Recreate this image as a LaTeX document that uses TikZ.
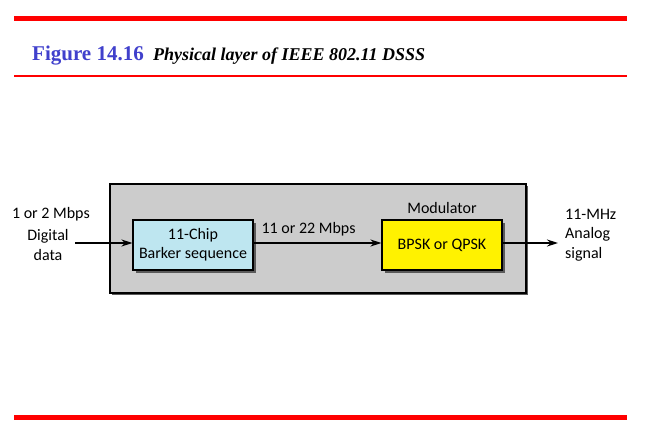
\documentclass[tikz,border=0pt]{standalone}
\usepackage{fontspec}
\setmainfont{Liberation Serif}
\newfontfamily\diagfont{Carlito}
\usepackage{xcolor}
\usetikzlibrary{arrows.meta, positioning, shadows}
\definecolor{rulered}{RGB}{255,0,0}
\definecolor{figblue}{RGB}{64,64,204}
\definecolor{boxgray}{RGB}{204,204,204}
\definecolor{chipcyan}{RGB}{190,230,240}
\definecolor{shadowgray}{RGB}{90,90,90}
\tikzset{
  blockbox/.style={draw=black, line width=1.1pt, minimum width=120pt, minimum height=50pt,
    align=center, font=\diagfont\fontsize{16}{19}\selectfont,
    drop shadow={shadow xshift=3pt, shadow yshift=-3pt, fill=shadowgray, opacity=1}},
  lbl/.style={font=\diagfont\fontsize{16}{19.5}\selectfont, inner sep=0pt},
  flow/.style={-{Stealth[length=11pt, width=7pt]}, line width=1.4pt}
}
\begin{document}
\begin{tikzpicture}[x=1pt, y=-1pt]
  \useasboundingbox (0,0) rectangle (662,434);
  % rules and caption
  \fill[rulered] (14,16) rectangle (627,21);
  \fill[rulered] (14,75) rectangle (627,77);
  \fill[rulered] (14,415) rectangle (627,420);
  \node[anchor=base west, inner sep=0pt, font=\fontsize{21}{24}\selectfont\bfseries\color{figblue}]
    (fignum) at (32,60) {Figure 14.16};
  \node[inner sep=0pt, font=\fontsize{18}{21}\selectfont\bfseries\itshape, right=9pt of fignum.base east, anchor=base west]
    (figtitle) {Physical layer of IEEE 802.11 DSSS};
  % physical layer box
  \node[draw=black, line width=1.1pt, fill=boxgray, minimum width=416pt, minimum height=109pt,
        drop shadow={shadow xshift=2pt, shadow yshift=-2pt, fill=shadowgray, opacity=1}]
    (phy) at (318,238.5) {};
  \node[blockbox, fill=chipcyan] (barker) at (193,245) {11-Chip\\Barker sequence};
  \node[blockbox, fill=yellow] (modulator) at (442,245) {BPSK or QPSK};
  \node[lbl, above=6pt of modulator] (modlabel) {Modulator};
  % input and output
  \node[lbl, anchor=east] (inrate) at (90,214) {1 or 2 Mbps};
  \node[lbl, align=center] (indata) at (48,245) {Digital\\data};
  \node[lbl, align=left, anchor=west] (outsig) at (565,235) {11-MHz\\Analog\\signal};
  \coordinate (inend) at (75,243);
  \coordinate (outend) at (558,243);
  \draw[flow] (inend) -- (inend -| barker.west);
  \draw[flow] (barker.east |- inend) -- node[lbl, above=6pt, pos=0.43] (midrate) {11 or 22 Mbps} (modulator.west |- inend);
  \draw[flow] (modulator.east |- outend) -- (outend);
\end{tikzpicture}
\end{document}
